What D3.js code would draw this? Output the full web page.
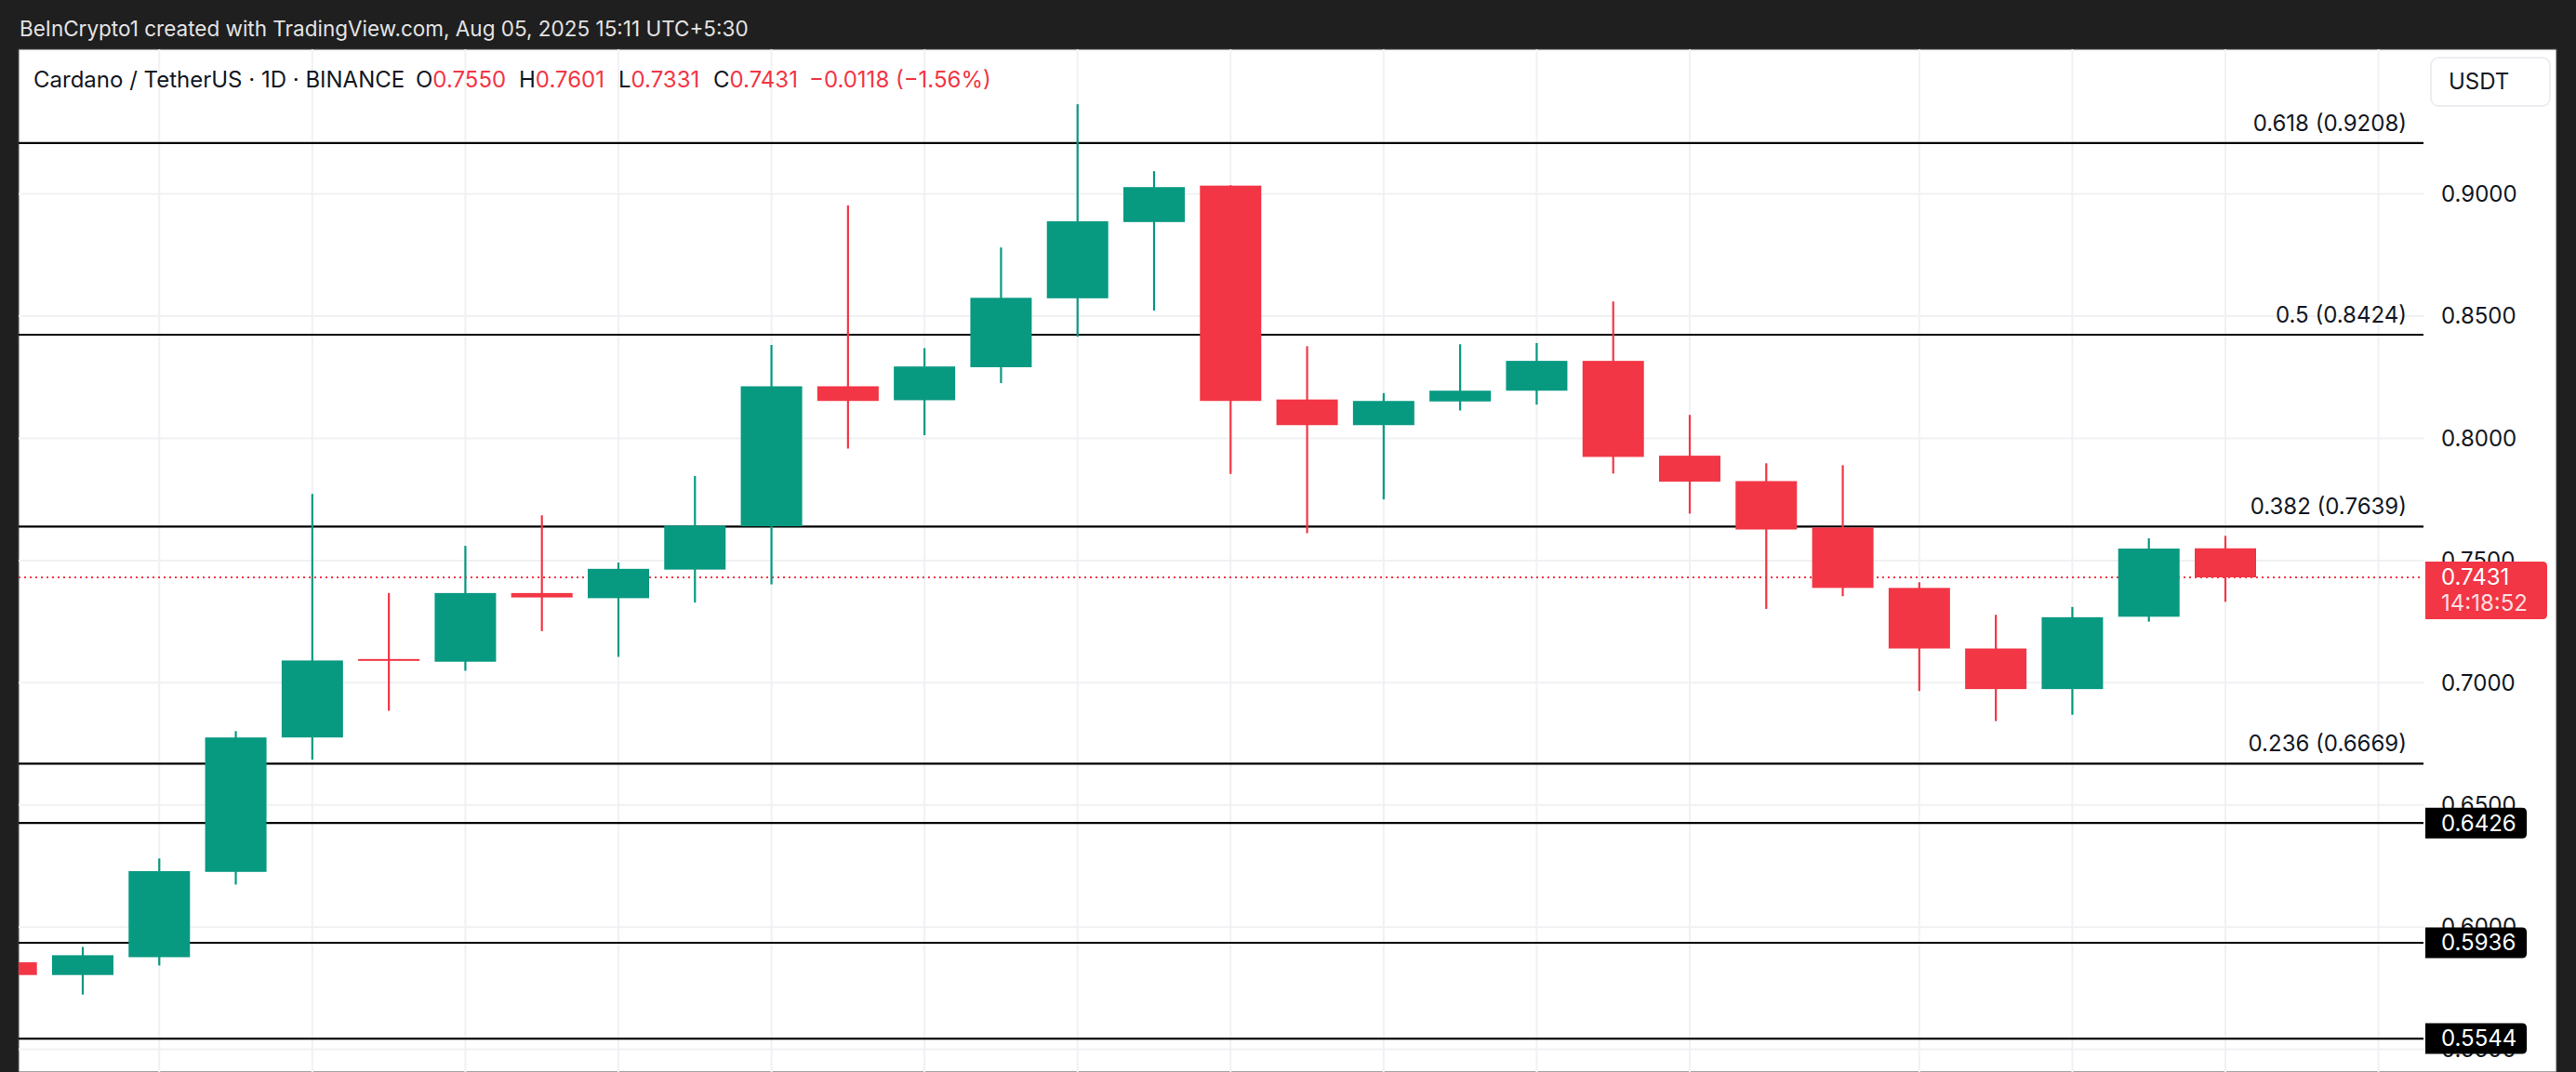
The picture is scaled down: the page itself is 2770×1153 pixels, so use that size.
<!DOCTYPE html>
<html>
<head>
<meta charset="utf-8">
<script src="https://cdn.jsdelivr.net/npm/d3@7"></script>
<style>
  body { margin: 0; background: #1f1f1f; }
  svg { display: block; font-family: Inter, "Noto Sans", sans-serif; }
</style>
</head>
<body>
<div id="chart-area"></div>
<script>
// daily candles, ADA/USDT, Jul 7 - Aug 5 2025
const days = ["2025-07-07","2025-07-08","2025-07-09","2025-07-10","2025-07-11","2025-07-12","2025-07-13","2025-07-14","2025-07-15","2025-07-16",
  "2025-07-17","2025-07-18","2025-07-19","2025-07-20","2025-07-21","2025-07-22","2025-07-23","2025-07-24","2025-07-25","2025-07-26",
  "2025-07-27","2025-07-28","2025-07-29","2025-07-30","2025-07-31","2025-08-01","2025-08-02","2025-08-03","2025-08-04","2025-08-05"]
const opens  = [0.5856,0.5804,0.5877,0.6226,0.6776,0.7097,0.7086,0.7367,0.7346,0.7463,0.7640,0.8213,0.8156,0.8291,0.8573,
  0.8885,0.9034,0.8159,0.8054,0.8151,0.8195,0.8317,0.7929,0.7825,0.7635,0.7388,0.7140,0.6974,0.7270,0.7550]
const highs  = [0.5875,0.5919,0.6281,0.6802,0.7773,0.7367,0.7560,0.7685,0.7492,0.7846,0.8382,0.8953,0.8369,0.8781,0.9367,
  0.9093,0.9036,0.8377,0.8185,0.8385,0.8390,0.8560,0.8096,0.7898,0.7890,0.7411,0.7278,0.7310,0.7591,0.7601]
const lows   = [0.5785,0.5724,0.5843,0.6174,0.6685,0.6885,0.7049,0.7211,0.7106,0.7328,0.7403,0.7958,0.8013,0.8226,0.8416,
  0.8523,0.7854,0.7612,0.7750,0.8114,0.8138,0.7856,0.7692,0.7302,0.7354,0.6966,0.6843,0.6869,0.7250,0.7331]
const closes = [0.5804,0.5885,0.6229,0.6776,0.7091,0.7090,0.7367,0.7349,0.7466,0.7643,0.8213,0.8153,0.8294,0.8575,0.8888,
  0.9028,0.8153,0.8054,0.8153,0.8195,0.8317,0.7924,0.7823,0.7627,0.7388,0.7140,0.6974,0.7268,0.7549,0.7431]

const priceTicks = [0.55, 0.60, 0.65, 0.70, 0.75, 0.80, 0.85, 0.90]
const gridDays = ["2025-07-09","2025-07-11","2025-07-13","2025-07-15","2025-07-17","2025-07-19","2025-07-21","2025-07-23",
  "2025-07-25","2025-07-27","2025-07-29","2025-08-01","2025-08-03","2025-08-05","2025-08-07"]

const fibLevels = [0.618, 0.5, 0.382, 0.236]
const fibPrices = [0.9208, 0.8424, 0.7639, 0.6669]
const supportLevels = [0.6426, 0.5936, 0.5544]
const lastPrice = 0.7431
const dayChange = -0.0118
const dayChangePct = -1.56

const W = 2770, H = 1153
const PLOT = { LEFT: 20, RIGHT: 2606, TOP: 53, BOTTOM: 1153 }
const UP = "#089981", DOWN = "#f23645"

const parse = d3.utcParse("%Y-%m-%d")
const data = days.map((d, i) => ({ date: parse(d), o: opens[i], h: highs[i], l: lows[i], c: closes[i] }))

const x = d3.scaleUtc()
  .domain([parse(days[0]), parse(days[days.length - 1])])
  .range([6.7, 2393])
const y = d3.scaleLinear()
  .domain([0.55, 0.9])
  .range([1128.6, 208.6])
const bodyW = 66
const fmt = d3.format(".4f")

const svg = d3.select("#chart-area").append("svg")
  .attr("width", W)
  .attr("height", H)

svg.append("rect").attr("width", W).attr("height", H).attr("fill", "#1f1f1f")
svg.append("rect")
  .attr("x", PLOT.LEFT).attr("y", PLOT.TOP)
  .attr("width", 2749 - PLOT.LEFT).attr("height", H - PLOT.TOP)
  .attr("fill", "#ffffff")
  .attr("stroke", "#4a4a4a").attr("stroke-width", 1)

svg.append("clipPath").attr("id", "plot-clip")
  .append("rect")
  .attr("x", PLOT.LEFT).attr("y", PLOT.TOP)
  .attr("width", PLOT.RIGHT - PLOT.LEFT).attr("height", PLOT.BOTTOM - PLOT.TOP)

const g = svg.append("g").attr("clip-path", "url(#plot-clip)")

// grid
g.selectAll(".hgrid").data(priceTicks).enter().append("line")
  .attr("x1", PLOT.LEFT).attr("x2", PLOT.RIGHT)
  .attr("y1", d => y(d)).attr("y2", d => y(d))
  .attr("stroke", "#f0f1f4").attr("stroke-width", 2)
g.selectAll(".vgrid").data(gridDays).enter().append("line")
  .attr("x1", d => x(parse(d))).attr("x2", d => x(parse(d)))
  .attr("y1", PLOT.TOP).attr("y2", PLOT.BOTTOM)
  .attr("stroke", "#f0f1f4").attr("stroke-width", 2)

// fib + support lines
g.selectAll(".fib").data(fibPrices.concat(supportLevels)).enter().append("line")
  .attr("x1", PLOT.LEFT).attr("x2", PLOT.RIGHT)
  .attr("y1", d => y(d)).attr("y2", d => y(d))
  .attr("stroke", "#000").attr("stroke-width", 2.2)

// current price dotted line
g.append("line")
  .attr("x1", PLOT.LEFT).attr("x2", PLOT.RIGHT)
  .attr("y1", y(lastPrice)).attr("y2", y(lastPrice))
  .attr("stroke", DOWN).attr("stroke-width", 2)
  .attr("stroke-dasharray", "2,4")

// candles
const candles = g.selectAll(".candle").data(data).enter().append("g")
candles.append("line")
  .attr("x1", d => x(d.date)).attr("x2", d => x(d.date))
  .attr("y1", d => y(d.h)).attr("y2", d => y(d.l))
  .attr("stroke", d => d.c >= d.o ? UP : DOWN)
  .attr("stroke-width", 2.2)
candles.append("rect")
  .attr("x", d => x(d.date) - bodyW / 2)
  .attr("width", bodyW)
  .attr("y", d => y(Math.max(d.o, d.c)))
  .attr("height", d => Math.max(2, Math.abs(y(d.o) - y(d.c))))
  .attr("fill", d => d.c >= d.o ? UP : DOWN)

// fib labels
svg.selectAll(".fib-label").data(fibLevels).enter().append("text")
  .attr("x", 2588)
  .attr("y", (d, i) => y(fibPrices[i]) - 13)
  .attr("text-anchor", "end")
  .attr("font-size", "24px")
  .attr("fill", "#131722")
  .text((d, i) => `${d} (${fmt(fibPrices[i])})`)

// price axis
const yAxisCall = d3.axisRight(y)
  .tickValues(priceTicks)
  .tickSize(0)
  .tickPadding(19)
  .tickFormat(fmt)
const axis = svg.append("g")
  .attr("transform", `translate(${PLOT.RIGHT}, 0)`)
  .call(yAxisCall)
axis.select(".domain").remove()
axis.selectAll("text")
  .attr("font-size", "24px")
  .attr("font-family", "Inter, 'Noto Sans', sans-serif")
  .attr("fill", "#131722")

// label boxes on the price axis
function axisBox(yc, h, w, fill) {
  const x0 = 2608, r = 5, t = yc - h / 2
  svg.append("path")
    .attr("d", `M${x0},${t} H${x0 + w - r} Q${x0 + w},${t} ${x0 + w},${t + r} V${t + h - r} Q${x0 + w},${t + h} ${x0 + w - r},${t + h} H${x0} Z`)
    .attr("fill", fill)
}
supportLevels.forEach(v => {
  axisBox(y(v), 33, 109, "#000000")
  svg.append("text")
    .attr("x", 2625).attr("y", y(v)).attr("dy", "0.35em")
    .attr("font-size", "24px").attr("fill", "#ffffff")
    .text(fmt(v))
})
axisBox(y(lastPrice) + 14, 62, 131, DOWN)
svg.append("text")
  .attr("x", 2625).attr("y", y(lastPrice)).attr("dy", "0.35em")
  .attr("font-size", "24px").attr("fill", "#ffffff")
  .text(fmt(lastPrice))
svg.append("text")
  .attr("x", 2625).attr("y", y(lastPrice) + 28).attr("dy", "0.35em")
  .attr("font-size", "24px").attr("fill", "#ffffff").attr("fill-opacity", 0.85)
  .text("14:18:52")

// currency button
svg.append("rect")
  .attr("x", 2614).attr("y", 62).attr("width", 128).attr("height", 52).attr("rx", 8)
  .attr("fill", "#fff").attr("stroke", "#eceef2").attr("stroke-width", 2)
svg.append("text")
  .attr("x", 2633).attr("y", 96)
  .attr("font-size", "24px").attr("fill", "#131722")
  .text("USDT")

// header
svg.append("text")
  .attr("x", 21).attr("y", 39)
  .attr("font-size", "22.5px").attr("fill", "#e3e3e3")
  .text("BeInCrypto1 created with TradingView.com, Aug 05, 2025 15:11 UTC+5:30")

// legend
const legend = svg.append("text")
  .attr("y", 94)
  .attr("font-size", "24px")
  .attr("fill", "#131722")
legend.append("tspan").attr("x", 36).text("Cardano / TetherUS · 1D · BINANCE")
const last = data[data.length - 1]
const ohlc = [["O", last.o, 447], ["H", last.h, 558], ["L", last.l, 665], ["C", last.c, 767]]
ohlc.forEach(([k, v, px]) => {
  legend.append("tspan").attr("x", px).text(k)
  legend.append("tspan").attr("fill", DOWN).text(fmt(v))
})
legend.append("tspan").attr("x", 870).attr("fill", DOWN)
  .text(`−${fmt(Math.abs(dayChange))} (−${Math.abs(dayChangePct).toFixed(2)}%)`)
</script>
</body>
</html>
